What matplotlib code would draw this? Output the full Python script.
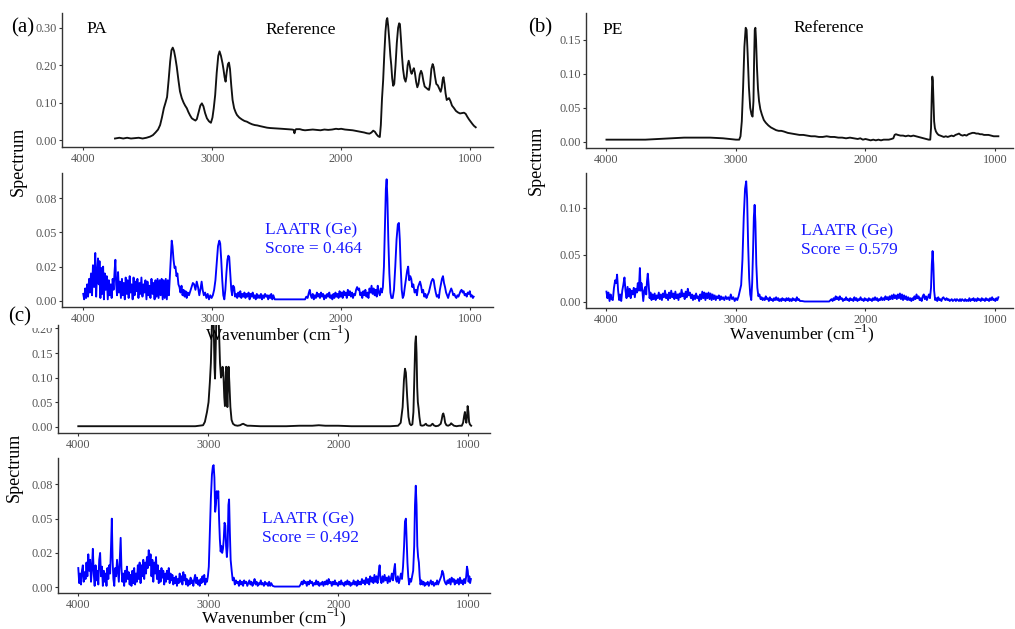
import numpy as np
import matplotlib.pyplot as plt
from matplotlib.patches import Rectangle

plt.rcParams['font.family'] = ['Liberation Serif', 'DejaVu Serif']
plt.rcParams['mathtext.fontset'] = 'custom'
plt.rcParams['mathtext.rm'] = 'Liberation Serif'

# --- spectra: (wavenumber, intensity) ---
pa_ref = np.array([
    [3754, .004], [3720, .006], [3690, .004], [3660, .006], [3630, .004], [3600, .005],
    [3570, .006], [3540, .004], [3510, .006], [3482, .009], [3460, .013], [3440, .020],
    [3420, .028], [3404, .040], [3390, .060], [3375, .085], [3362, .100], [3350, .115],
    [3338, .160], [3326, .210], [3316, .240], [3306, .247], [3296, .238], [3286, .220],
    [3275, .196], [3262, .160], [3250, .130], [3236, .112], [3222, .100], [3210, .092],
    [3197, .085], [3185, .075], [3172, .066], [3158, .058], [3145, .055], [3130, .052],
    [3119, .056], [3105, .075], [3092, .092], [3080, .098], [3068, .090], [3055, .072],
    [3041, .058], [3025, .050], [3010, .046], [2998, .060], [2988, .085], [2977, .120],
    [2965, .180], [2953, .225], [2943, .237], [2932, .225], [2920, .205], [2912, .188],
    [2904, .168], [2896, .156], [2888, .180], [2878, .203], [2870, .207], [2862, .190],
    [2852, .145], [2842, .107], [2830, .085], [2818, .074], [2808, .067], [2790, .060],
    [2770, .055], [2750, .051], [2731, .049], [2710, .045], [2690, .042], [2670, .040],
    [2650, .039], [2627, .037], [2600, .035], [2575, .033], [2550, .032], [2500, .031],
    [2460, .030], [2420, .029], [2380, .028], [2368, .027], [2362, .018], [2356, .026],
    [2350, .029], [2320, .029], [2300, .027], [2280, .026], [2250, .027], [2220, .028],
    [2190, .027], [2160, .026], [2130, .028], [2100, .027], [2070, .028], [2040, .030],
    [2020, .029], [2000, .030], [1970, .028], [1940, .027], [1910, .026], [1880, .024],
    [1850, .022], [1820, .020], [1800, .018], [1780, .017], [1765, .020], [1751, .025],
    [1738, .022], [1725, .015], [1712, .010], [1700, .008], [1692, .040], [1683, .110],
    [1674, .160], [1665, .230], [1656, .290], [1648, .320], [1642, .326], [1635, .305],
    [1626, .265], [1618, .225], [1611, .200], [1604, .165], [1596, .145], [1588, .150],
    [1578, .200], [1568, .260], [1558, .300], [1550, .312], [1544, .310], [1536, .270],
    [1528, .225], [1520, .190], [1510, .165], [1500, .156], [1492, .170], [1484, .200],
    [1476, .212], [1468, .200], [1460, .183], [1453, .177], [1445, .185], [1436, .192],
    [1428, .180], [1418, .155], [1409, .141], [1400, .150], [1390, .175], [1380, .185],
    [1372, .178], [1362, .158], [1352, .143], [1345, .141], [1335, .138], [1325, .135],
    [1318, .134], [1310, .150], [1300, .190], [1290, .203], [1282, .195], [1272, .170],
    [1262, .150], [1250, .146], [1240, .138], [1228, .129], [1220, .140], [1212, .162],
    [1206, .168], [1198, .150], [1190, .125], [1181, .107], [1172, .110], [1163, .112],
    [1152, .104], [1140, .092], [1124, .085], [1110, .078], [1095, .074], [1078, .071],
    [1062, .072], [1047, .073], [1034, .070], [1021, .062], [1008, .055], [995, .049],
    [982, .043], [970, .038], [956, .034],
])

pa_laatr = np.array([
    [4000, .005], [3993, .001], [3985, .009], [3978, .002], [3970, .012], [3963, .003],
    [3955, .016], [3948, .006], [3940, .020], [3932, .004], [3925, .026], [3916, .010],
    [3907, .035], [3900, .003], [3893, .020], [3886, .031], [3880, .012], [3874, .029],
    [3867, .002], [3860, .024], [3853, .005], [3846, .025], [3840, .001], [3833, .020],
    [3826, .008], [3818, .018], [3810, .001], [3802, .015], [3795, .004], [3787, .012],
    [3780, .002], [3772, .016], [3765, .008], [3757, .022], [3751, .030], [3745, .012],
    [3738, .004], [3730, .021], [3723, .006], [3716, .014], [3708, .002], [3700, .016],
    [3693, .004], [3686, .013], [3678, .001], [3671, .017], [3663, .005], [3656, .015],
    [3648, .002], [3640, .018], [3633, .006], [3625, .012], [3617, .001], [3610, .017],
    [3602, .004], [3595, .014], [3587, .007], [3580, .016], [3572, .002], [3564, .013],
    [3557, .005], [3549, .017], [3541, .003], [3533, .012], [3526, .006], [3518, .015],
    [3510, .001], [3502, .014], [3495, .004], [3487, .011], [3479, .002], [3471, .016],
    [3463, .005], [3455, .013], [3447, .001], [3440, .015], [3432, .003], [3424, .016],
    [3416, .002], [3408, .015], [3400, .004], [3392, .016], [3384, .001], [3376, .015],
    [3368, .002], [3360, .016], [3352, .001], [3344, .015], [3336, .004], [3328, .018],
    [3320, .032], [3314, .044], [3308, .040], [3300, .030], [3292, .024], [3285, .025],
    [3277, .018], [3270, .020], [3262, .012], [3254, .010], [3246, .006], [3238, .011],
    [3230, .004], [3222, .008], [3214, .003], [3206, .007], [3198, .002], [3190, .006],
    [3180, .004], [3170, .007], [3160, .010], [3150, .013], [3140, .012], [3130, .008],
    [3120, .014], [3110, .010], [3100, .004], [3090, .009], [3082, .014], [3074, .008],
    [3065, .004], [3055, .006], [3045, .002], [3035, .005], [3025, .001], [3015, .004],
    [3005, .002], [2995, .004], [2985, .008], [2975, .015], [2965, .028], [2955, .040],
    [2945, .044], [2938, .042], [2930, .030], [2922, .015], [2914, .004], [2906, .001],
    [2898, .008], [2890, .020], [2882, .030], [2875, .033], [2868, .032], [2860, .020],
    [2852, .008], [2845, .004], [2838, .011], [2830, .010], [2822, .003], [2814, .005],
    [2806, .002], [2798, .006], [2790, .003], [2782, .007], [2774, .002], [2766, .005],
    [2758, .003], [2750, .006], [2742, .002], [2734, .005], [2726, .003], [2718, .006],
    [2710, .001], [2702, .005], [2694, .003], [2686, .006], [2678, .002], [2670, .004],
    [2662, .001], [2654, .005], [2646, .002], [2638, .004], [2630, .002], [2622, .005],
    [2614, .001], [2606, .004], [2598, .002], [2590, .005], [2582, .003], [2574, .004],
    [2566, .001], [2558, .004], [2550, .002], [2542, .005], [2534, .001], [2526, .004],
    [2515, .001], [2500, .001], [2280, .001], [2270, .003], [2260, .002], [2250, .006],
    [2243, .008], [2236, .004], [2228, .002], [2220, .005], [2212, .001], [2204, .004],
    [2196, .002], [2188, .006], [2180, .003], [2172, .005], [2164, .002], [2156, .006],
    [2148, .003], [2140, .005], [2132, .001], [2124, .004], [2116, .002], [2108, .005],
    [2100, .003], [2092, .006], [2084, .002], [2076, .004], [2068, .001], [2060, .005],
    [2052, .002], [2044, .006], [2036, .003], [2028, .005], [2020, .002], [2012, .007],
    [2004, .003], [1996, .006], [1988, .002], [1980, .007], [1972, .004], [1964, .006],
    [1956, .002], [1948, .008], [1940, .004], [1932, .007], [1924, .003], [1916, .006],
    [1908, .002], [1900, .005], [1892, .004], [1884, .008], [1876, .010], [1868, .008],
    [1860, .009], [1852, .004], [1844, .006], [1836, .002], [1828, .007], [1820, .004],
    [1812, .008], [1804, .003], [1796, .006], [1788, .002], [1780, .009], [1772, .006],
    [1764, .011], [1756, .005], [1748, .009], [1740, .004], [1732, .008], [1724, .003],
    [1716, .011], [1708, .006], [1700, .004], [1692, .009], [1684, .006], [1676, .010],
    [1668, .025], [1660, .055], [1653, .082], [1647, .089], [1641, .075], [1634, .045],
    [1626, .020], [1618, .006], [1610, .002], [1600, .002], [1590, .008], [1580, .025],
    [1570, .045], [1560, .056], [1552, .057], [1545, .045], [1538, .025], [1530, .008],
    [1522, .002], [1514, .004], [1506, .010], [1497, .016], [1488, .022], [1480, .025],
    [1472, .015], [1464, .018], [1456, .016], [1448, .010], [1440, .012], [1430, .006],
    [1420, .008], [1412, .004], [1404, .010], [1396, .012], [1388, .014], [1380, .011],
    [1372, .006], [1364, .008], [1355, .003], [1346, .005], [1338, .002], [1330, .004],
    [1320, .006], [1310, .010], [1300, .014], [1290, .016], [1282, .015], [1274, .010],
    [1266, .006], [1258, .003], [1250, .004], [1242, .002], [1234, .008], [1226, .012],
    [1218, .016], [1210, .018], [1202, .013], [1194, .010], [1186, .006], [1178, .004],
    [1170, .002], [1162, .005], [1154, .007], [1146, .009], [1138, .007], [1130, .004],
    [1122, .005], [1114, .003], [1106, .002], [1098, .004], [1090, .003], [1082, .005],
    [1074, .007], [1066, .008], [1058, .006], [1050, .007], [1042, .004], [1034, .005],
    [1026, .003], [1018, .006], [1010, .005], [1002, .007], [994, .003], [986, .004],
    [978, .002], [972, .003],
])

pe_ref = np.array([
    [4000, .003], [3900, .003], [3800, .003], [3700, .003], [3600, .004], [3500, .005],
    [3400, .006], [3300, .006], [3200, .006], [3100, .005], [3050, .004], [3000, .003],
    [2975, .003], [2965, .008], [2955, .030], [2945, .080], [2935, .140], [2925, .168],
    [2918, .165], [2910, .130], [2900, .080], [2890, .050], [2880, .040], [2872, .037],
    [2865, .060], [2860, .120], [2855, .165], [2850, .168], [2845, .150], [2838, .110],
    [2830, .078], [2822, .060], [2812, .048], [2800, .040], [2785, .032], [2770, .028],
    [2750, .024], [2730, .021], [2710, .019], [2690, .017], [2670, .016], [2650, .016],
    [2630, .015], [2600, .013], [2570, .012], [2540, .011], [2510, .010], [2480, .010],
    [2450, .009], [2420, .008], [2390, .008], [2360, .007], [2330, .007], [2300, .008],
    [2270, .007], [2240, .007], [2210, .006], [2180, .006], [2150, .005], [2120, .006],
    [2090, .005], [2060, .004], [2040, .005], [2020, .003], [2000, .004], [1980, .003],
    [1960, .002], [1940, .003], [1920, .002], [1900, .003], [1880, .002], [1860, .003],
    [1840, .003], [1820, .003], [1800, .004], [1785, .005], [1775, .010], [1765, .011],
    [1750, .010], [1730, .009], [1710, .009], [1690, .008], [1670, .009], [1650, .008],
    [1630, .009], [1610, .008], [1590, .007], [1570, .006], [1550, .005], [1530, .004],
    [1512, .003], [1500, .003], [1494, .020], [1488, .070], [1484, .096], [1480, .090],
    [1475, .060], [1470, .030], [1464, .020], [1456, .015], [1446, .012], [1436, .010],
    [1422, .009], [1408, .008], [1395, .007], [1380, .008], [1365, .007], [1350, .008],
    [1335, .009], [1320, .008], [1305, .010], [1290, .011], [1278, .012], [1265, .010],
    [1250, .009], [1235, .010], [1220, .009], [1205, .011], [1190, .012], [1175, .013],
    [1160, .013], [1145, .012], [1130, .012], [1115, .011], [1100, .011], [1085, .010],
    [1070, .010], [1050, .010], [1030, .009], [1010, .008], [990, .008], [974, .008],
])

pe_laatr = np.array([
    [4000, .011], [3993, .004], [3985, .010], [3976, .001], [3968, .008], [3960, .003],
    [3951, .002], [3942, .015], [3933, .023], [3925, .020], [3918, .029], [3910, .012],
    [3902, .002], [3894, .008], [3886, .001], [3878, .012], [3870, .018], [3861, .026],
    [3853, .012], [3845, .004], [3837, .016], [3829, .006], [3821, .014], [3813, .004],
    [3805, .012], [3797, .008], [3789, .015], [3781, .005], [3773, .014], [3765, .010],
    [3758, .020], [3750, .012], [3742, .036], [3736, .012], [3730, .020], [3724, .014],
    [3716, .001], [3708, .012], [3700, .016], [3693, .008], [3687, .022], [3681, .030],
    [3674, .018], [3667, .004], [3660, .010], [3652, .002], [3644, .008], [3636, .003],
    [3628, .009], [3620, .002], [3612, .007], [3604, .004], [3596, .010], [3588, .003],
    [3580, .008], [3572, .002], [3564, .009], [3556, .005], [3548, .012], [3540, .004],
    [3532, .008], [3524, .002], [3516, .010], [3508, .004], [3500, .012], [3492, .005],
    [3484, .009], [3476, .003], [3468, .011], [3460, .004], [3452, .008], [3444, .002],
    [3436, .009], [3428, .005], [3420, .013], [3412, .006], [3404, .009], [3396, .003],
    [3388, .011], [3380, .005], [3372, .014], [3364, .007], [3356, .010], [3348, .004],
    [3340, .008], [3332, .002], [3324, .007], [3316, .003], [3308, .009], [3300, .004],
    [3292, .006], [3284, .001], [3276, .008], [3268, .003], [3260, .011], [3252, .004],
    [3244, .010], [3236, .002], [3228, .009], [3220, .004], [3212, .010], [3204, .003],
    [3196, .009], [3188, .002], [3180, .008], [3172, .003], [3164, .007], [3156, .002],
    [3148, .006], [3140, .004], [3132, .007], [3124, .002], [3116, .006], [3108, .003],
    [3100, .005], [3090, .002], [3080, .006], [3070, .003], [3060, .005], [3050, .002],
    [3040, .008], [3030, .003], [3020, .005], [3010, .001], [3000, .004], [2990, .002],
    [2980, .006], [2970, .012], [2960, .018], [2950, .045], [2940, .090], [2930, .120],
    [2921, .128], [2914, .110], [2906, .060], [2898, .025], [2890, .008], [2882, .002],
    [2875, .020], [2868, .055], [2862, .090], [2856, .103], [2850, .085], [2843, .040],
    [2835, .015], [2827, .006], [2819, .008], [2810, .003], [2802, .005], [2794, .002],
    [2786, .004], [2778, .002], [2770, .006], [2762, .003], [2754, .004], [2746, .001],
    [2738, .005], [2730, .002], [2722, .003], [2714, .001], [2706, .004], [2698, .002],
    [2690, .005], [2682, .002], [2674, .004], [2666, .001], [2658, .003], [2650, .001],
    [2642, .004], [2634, .002], [2626, .003], [2618, .001], [2610, .004], [2602, .002],
    [2594, .004], [2586, .001], [2578, .003], [2570, .001], [2562, .004], [2554, .002],
    [2546, .003], [2538, .001], [2530, .005], [2522, .002], [2514, .003], [2506, .001],
    [2490, .001], [2470, .0005], [2280, .0005], [2270, .002], [2262, .003], [2254, .001],
    [2246, .004], [2238, .002], [2230, .006], [2222, .003], [2214, .005], [2206, .002],
    [2198, .006], [2190, .003], [2182, .004], [2174, .001], [2166, .003], [2158, .002],
    [2150, .005], [2142, .002], [2134, .003], [2126, .001], [2118, .004], [2110, .002],
    [2102, .003], [2094, .001], [2086, .005], [2078, .002], [2070, .004], [2062, .001],
    [2054, .003], [2046, .002], [2038, .005], [2030, .002], [2022, .003], [2014, .001],
    [2006, .004], [1998, .002], [1990, .003], [1982, .001], [1974, .004], [1966, .002],
    [1958, .003], [1950, .001], [1942, .004], [1934, .002], [1926, .005], [1918, .002],
    [1910, .004], [1902, .001], [1894, .003], [1886, .002], [1878, .005], [1870, .002],
    [1862, .004], [1854, .002], [1846, .006], [1838, .003], [1830, .005], [1822, .002],
    [1814, .006], [1806, .003], [1798, .007], [1790, .003], [1782, .008], [1774, .004],
    [1766, .007], [1758, .003], [1750, .008], [1742, .004], [1734, .009], [1726, .003],
    [1718, .008], [1710, .002], [1702, .007], [1694, .003], [1686, .006], [1678, .002],
    [1670, .005], [1662, .002], [1654, .004], [1646, .001], [1638, .004], [1630, .002],
    [1622, .006], [1614, .003], [1606, .008], [1598, .004], [1590, .006], [1582, .002],
    [1574, .004], [1566, .001], [1558, .006], [1550, .008], [1542, .003], [1534, .006],
    [1526, .002], [1518, .005], [1510, .008], [1502, .004], [1494, .015], [1488, .040],
    [1482, .054], [1476, .040], [1470, .012], [1462, .002], [1454, .004], [1446, .001],
    [1438, .005], [1430, .002], [1422, .003], [1414, .001], [1406, .004], [1398, .005],
    [1390, .003], [1382, .002], [1374, .004], [1366, .002], [1358, .003], [1350, .001],
    [1342, .002], [1334, .003], [1326, .001], [1318, .002], [1310, .003], [1302, .001],
    [1294, .003], [1286, .002], [1278, .001], [1270, .003], [1262, .001], [1254, .003],
    [1246, .002], [1238, .001], [1230, .003], [1222, .001], [1214, .002], [1206, .001],
    [1198, .004], [1190, .001], [1182, .003], [1174, .002], [1166, .004], [1158, .001],
    [1150, .003], [1142, .001], [1134, .004], [1126, .002], [1118, .003], [1110, .001],
    [1102, .004], [1094, .002], [1086, .003], [1078, .001], [1070, .004], [1062, .002],
    [1054, .003], [1046, .001], [1038, .004], [1030, .002], [1022, .005], [1014, .002],
    [1006, .003], [998, .001], [990, .004], [982, .002], [974, .005],
])

pp_ref = np.array([
    [4000, .001], [3800, .001], [3600, .001], [3400, .001], [3200, .001], [3100, .001],
    [3040, .003], [3026, .010], [3010, .030], [2998, .050], [2988, .090], [2980, .130],
    [2972, .210], [2965, .280], [2958, .200], [2952, .120], [2948, .098], [2942, .170],
    [2935, .260], [2926, .270], [2918, .200], [2910, .130], [2902, .100], [2896, .105],
    [2890, .122], [2884, .110], [2877, .060], [2872, .042], [2867, .090], [2862, .122],
    [2857, .080], [2853, .040], [2849, .080], [2844, .122], [2838, .090], [2830, .040],
    [2821, .014], [2810, .006], [2795, .003], [2775, .002], [2755, .003], [2742, .005],
    [2731, .006], [2718, .004], [2700, .002], [2679, .002], [2600, .001], [2500, .001],
    [2400, .001], [2300, .002], [2200, .002], [2150, .003], [2100, .002], [2050, .002],
    [2000, .002], [1900, .001], [1800, .001], [1700, .001], [1600, .001], [1540, .002],
    [1520, .008], [1505, .040], [1495, .095], [1487, .118], [1480, .110], [1470, .060],
    [1460, .020], [1450, .006], [1440, .003], [1430, .005], [1422, .030], [1414, .110],
    [1408, .170], [1403, .184], [1398, .150], [1393, .080], [1388, .050], [1382, .037],
    [1376, .020], [1367, .003], [1355, .002], [1340, .003], [1332, .005], [1326, .006],
    [1318, .003], [1305, .002], [1290, .002], [1280, .005], [1274, .006], [1266, .003],
    [1250, .001], [1230, .002], [1212, .006], [1204, .015], [1198, .024], [1192, .027],
    [1185, .020], [1178, .008], [1168, .003], [1155, .002], [1140, .004], [1132, .007],
    [1124, .005], [1110, .002], [1090, .001], [1070, .002], [1050, .002], [1040, .008],
    [1032, .022], [1026, .030], [1020, .015], [1015, .008], [1010, .020], [1005, .042],
    [999, .030], [994, .010], [988, .005], [982, .003], [978, .002],
])

pp_laatr = np.array([
    [4000, .014], [3993, .003], [3986, .010], [3979, .002], [3972, .012], [3965, .016],
    [3958, .004], [3951, .011], [3944, .006], [3937, .018], [3930, .008], [3923, .024],
    [3916, .012], [3909, .020], [3902, .004], [3895, .014], [3888, .028], [3881, .010],
    [3874, .001], [3867, .016], [3860, .005], [3853, .012], [3846, .002], [3839, .020],
    [3832, .025], [3825, .008], [3818, .015], [3811, .001], [3804, .012], [3797, .004],
    [3790, .010], [3783, .001], [3776, .014], [3769, .006], [3762, .016], [3755, .010],
    [3748, .030], [3742, .050], [3736, .020], [3730, .006], [3723, .001], [3716, .014],
    [3709, .008], [3702, .020], [3695, .012], [3688, .004], [3681, .020], [3674, .036],
    [3668, .014], [3661, .004], [3654, .010], [3647, .001], [3640, .012], [3633, .004],
    [3626, .015], [3619, .006], [3612, .011], [3605, .002], [3598, .009], [3591, .001],
    [3584, .012], [3577, .003], [3570, .014], [3563, .002], [3556, .010], [3549, .004],
    [3542, .016], [3535, .006], [3528, .018], [3521, .003], [3514, .016], [3507, .008],
    [3500, .020], [3493, .006], [3486, .018], [3479, .010], [3472, .022], [3465, .014],
    [3458, .027], [3451, .016], [3444, .024], [3437, .008], [3430, .020], [3423, .004],
    [3416, .018], [3409, .010], [3402, .022], [3395, .006], [3388, .016], [3381, .003],
    [3374, .012], [3367, .004], [3360, .014], [3353, .007], [3346, .012], [3339, .002],
    [3332, .010], [3325, .004], [3318, .012], [3311, .006], [3304, .014], [3297, .003],
    [3290, .010], [3283, .005], [3276, .009], [3269, .002], [3262, .007], [3255, .003],
    [3248, .008], [3241, .001], [3234, .006], [3227, .003], [3220, .010], [3213, .004],
    [3206, .008], [3199, .002], [3192, .011], [3185, .005], [3178, .009], [3171, .002],
    [3164, .006], [3157, .001], [3150, .005], [3143, .002], [3136, .007], [3129, .003],
    [3122, .005], [3115, .001], [3108, .006], [3101, .009], [3094, .003], [3087, .007],
    [3080, .002], [3073, .005], [3066, .001], [3059, .006], [3052, .003], [3045, .008],
    [3038, .004], [3031, .009], [3024, .002], [3017, .006], [3010, .004], [3003, .008],
    [2996, .015], [2988, .040], [2980, .065], [2972, .082], [2965, .088], [2959, .089],
    [2953, .080], [2947, .055], [2941, .060], [2935, .070], [2929, .065], [2923, .070],
    [2917, .050], [2911, .035], [2905, .026], [2899, .030], [2893, .025], [2887, .028],
    [2881, .035], [2875, .047], [2869, .045], [2863, .030], [2857, .022], [2851, .030],
    [2845, .060], [2840, .064], [2834, .040], [2828, .020], [2820, .012], [2812, .005],
    [2804, .007], [2796, .002], [2788, .005], [2780, .003], [2772, .004], [2764, .001],
    [2756, .005], [2748, .002], [2740, .004], [2732, .001], [2724, .005], [2716, .003],
    [2708, .004], [2700, .001], [2692, .003], [2684, .005], [2676, .002], [2668, .004],
    [2660, .001], [2652, .003], [2644, .006], [2636, .002], [2628, .004], [2620, .001],
    [2612, .003], [2604, .002], [2596, .005], [2588, .002], [2580, .003], [2572, .001],
    [2564, .004], [2556, .002], [2548, .003], [2540, .001], [2532, .004], [2524, .001],
    [2516, .003], [2505, .001], [2490, .0005], [2300, .0005], [2290, .002], [2282, .004],
    [2274, .002], [2266, .005], [2258, .003], [2250, .004], [2242, .001], [2234, .004],
    [2226, .002], [2218, .005], [2210, .003], [2202, .004], [2194, .001], [2186, .003],
    [2178, .002], [2170, .005], [2162, .002], [2154, .004], [2146, .001], [2138, .003],
    [2130, .002], [2122, .004], [2114, .001], [2106, .004], [2098, .002], [2090, .005],
    [2082, .002], [2074, .006], [2066, .003], [2058, .004], [2050, .001], [2042, .004],
    [2034, .002], [2026, .005], [2018, .002], [2010, .003], [2002, .001], [1994, .004],
    [1986, .002], [1978, .005], [1970, .002], [1962, .003], [1954, .001], [1946, .004],
    [1938, .002], [1930, .005], [1922, .002], [1914, .004], [1906, .001], [1898, .003],
    [1890, .002], [1882, .005], [1874, .002], [1866, .004], [1858, .001], [1850, .005],
    [1842, .002], [1834, .004], [1826, .002], [1818, .006], [1810, .003], [1802, .005],
    [1794, .002], [1786, .007], [1778, .003], [1770, .006], [1762, .002], [1754, .008],
    [1746, .004], [1738, .007], [1730, .003], [1722, .009], [1714, .004], [1706, .008],
    [1698, .003], [1690, .010], [1682, .016], [1676, .006], [1668, .003], [1660, .008],
    [1652, .004], [1644, .009], [1636, .005], [1628, .007], [1620, .003], [1612, .008],
    [1604, .004], [1596, .006], [1588, .010], [1580, .005], [1572, .012], [1564, .017],
    [1558, .006], [1550, .004], [1542, .008], [1534, .003], [1526, .006], [1518, .010],
    [1510, .006], [1502, .015], [1494, .030], [1487, .048], [1480, .050], [1474, .035],
    [1468, .018], [1462, .008], [1455, .002], [1448, .006], [1440, .004], [1432, .008],
    [1424, .012], [1416, .030], [1410, .060], [1404, .074], [1398, .060], [1392, .030],
    [1386, .022], [1380, .018], [1374, .008], [1368, .002], [1360, .005], [1352, .002],
    [1344, .004], [1336, .001], [1328, .003], [1320, .002], [1312, .004], [1304, .001],
    [1296, .003], [1288, .005], [1280, .002], [1272, .004], [1264, .001], [1256, .003],
    [1248, .002], [1240, .005], [1232, .002], [1224, .004], [1216, .006], [1208, .008],
    [1200, .012], [1192, .010], [1184, .005], [1176, .003], [1168, .002], [1160, .005],
    [1152, .003], [1144, .006], [1136, .002], [1128, .007], [1120, .004], [1112, .006],
    [1104, .002], [1096, .005], [1088, .003], [1080, .006], [1072, .002], [1064, .007],
    [1056, .003], [1048, .005], [1040, .002], [1032, .006], [1024, .003], [1016, .008],
    [1010, .015], [1004, .012], [998, .004], [992, .008], [986, .003], [980, .006],
])

polymers = ['PA', 'PE', 'PP']
laatr_scores = [0.464, 0.579, 0.492]
x_ticks = [4000, 3000, 2000, 1000]

W, H = 1015, 629
fig = plt.figure(figsize=(W / 100, H / 100), dpi=100)
fig.patch.set_facecolor('white')


def px_rect(x0, y0, x1, y1):
    return [x0 / W, 1 - y1 / H, (x1 - x0) / W, (y1 - y0) / H]


def fig_text(x, y, s, **kw):
    return fig.text(x / W, 1 - y / H, s, **kw)


def spectrum_axes(rect, xlim, ylim, yticks, ylabels, data, color):
    ax = fig.add_axes(px_rect(*rect))
    ax.plot(data[:, 0], data[:, 1], color=color, lw=1.35, solid_joinstyle='round')
    ax.set_xlim(*xlim)
    ax.set_ylim(*ylim)
    ax.set_xticks(x_ticks)
    ax.set_yticks(yticks)
    ax.set_yticklabels(ylabels)
    for side in ['top', 'right']:
        ax.spines[side].set_visible(False)
    for side in ['left', 'bottom']:
        ax.spines[side].set_linewidth(1.0)
        ax.spines[side].set_color('#333333')
    ax.tick_params(axis='both', colors='#333333', labelcolor='#555555',
                   labelsize=8.8, length=2.5, width=0.8)
    ax.tick_params(axis='y', pad=1)
    ax.tick_params(axis='x', pad=2)
    ax.set_facecolor('none')
    return ax


small_ticks = [0, 0.025, 0.05, 0.075]
small_labels = ['0.00', '0.02', '0.05', '0.08']

# (a) PA
spectrum_axes((62, 13, 493, 147), (4165, 822), (-0.0187, 0.3396),
              [0, .1, .2, .3], ['0.00', '0.10', '0.20', '0.30'], pa_ref, '#111111')
spectrum_axes((62, 173, 493, 307), (4165, 822), (-0.0046, 0.0936),
              small_ticks, small_labels, pa_laatr, '#0000ff')

# (b) PE
spectrum_axes((586, 13, 1013, 148), (4158, 861), (-0.0093, 0.1898),
              [0, .05, .1, .15], ['0.00', '0.05', '0.10', '0.15'], pe_ref, '#111111')
spectrum_axes((586, 173, 1013, 308), (4158, 861), (-0.0064, 0.1368),
              [0, .05, .1], ['0.00', '0.05', '0.10'], pe_laatr, '#0000ff')

# (c) PP
spectrum_axes((58, 325, 490, 433), (4156, 833), (-0.0128, 0.207),
              [0, .05, .1, .15, .2], ['0.00', '0.05', '0.10', '0.15', '0.20'],
              pp_ref, '#111111')
spectrum_axes((58, 458, 490, 593), (4156, 833), (-0.0042, 0.0942),
              small_ticks, small_labels, pp_laatr, '#0000ff')

# panel (c) sits partly under panel (a): hide the top of its 0.20 label
fig.patches.append(Rectangle((30 / W, 1 - 328 / H), 27 / W, 18 / H,
                             transform=fig.transFigure, facecolor='white',
                             edgecolor='none', zorder=5))

label_kw = dict(fontsize=13, ha='center', va='center', zorder=6)
xlab_kw = dict(fontsize=12.5, ha='center', va='center', zorder=6)
xlab = r'Wavenumber (cm$^{\mathregular{-1}}$)'
fig_text(18, 161, 'Spectrum', rotation=90, **label_kw)
fig_text(536, 160, 'Spectrum', rotation=90, **label_kw)
fig_text(14, 467, 'Spectrum', rotation=90, **label_kw)
fig_text(278, 335, xlab, **xlab_kw)
fig_text(802, 334, xlab, **xlab_kw)
fig_text(274, 618, xlab, **xlab_kw)

panel_kw = dict(fontsize=15, ha='center', va='center', zorder=7)
fig_text(23, 28, '(a)', **panel_kw)
fig_text(540, 28, '(b)', **panel_kw)
fig_text(20, 317, '(c)', **panel_kw)

name_kw = dict(fontsize=12.5, va='center', zorder=6)
fig_text(86, 29, polymers[0], ha='left', **name_kw)
fig_text(301, 30, 'Reference', ha='center', **name_kw)
fig_text(602, 30, polymers[1], ha='left', **name_kw)
fig_text(829, 28, 'Reference', ha='center', **name_kw)

score_pos = [(265, 240), (801, 241), (262, 529)]
for (x, y), score in zip(score_pos, laatr_scores):
    fig_text(x, y, f'LAATR (Ge)\nScore = {score:.3f}', color='#1a1aff',
             fontsize=12.5, ha='left', va='center', linespacing=1.2, zorder=6)

fig.savefig('out.png', dpi=100, facecolor='white')
